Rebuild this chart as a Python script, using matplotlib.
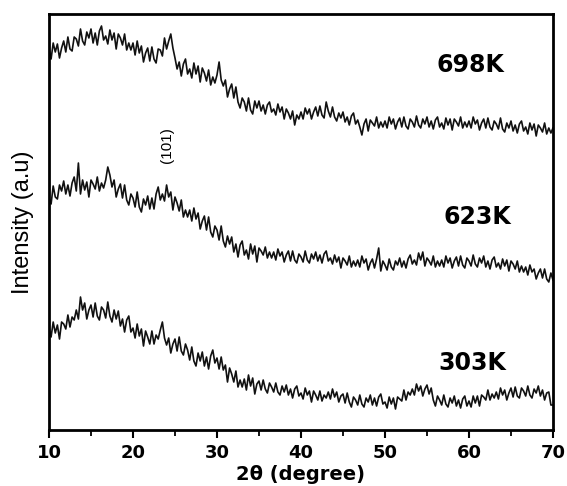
import numpy as np
import matplotlib.pyplot as plt

# intensidades (unidades arbitrarias), paso de 0.25 grados
i_698 = [
    381, 371, 387, 378, 386, 372, 382, 389, 378, 393, 381, 379,
    393, 391, 384, 401, 389, 385, 398, 392, 401, 387, 397, 385,
    399, 404, 390, 394, 386, 400, 390, 397, 381, 396, 392, 385,
    396, 380, 387, 380, 387, 375, 389, 377, 384, 368, 377, 382,
    369, 383, 371, 367, 381, 380, 374, 392, 381, 389, 396, 382,
    372, 361, 368, 354, 366, 371, 356, 361, 352, 367, 356, 364,
    348, 362, 357, 349, 360, 345, 353, 347, 355, 368, 350, 344,
    350, 333, 341, 346, 332, 343, 328, 322, 332, 328, 319, 332,
    320, 316, 329, 322, 329, 319, 325, 316, 325, 328, 318, 321,
    315, 326, 318, 323, 311, 321, 317, 311, 319, 305, 315, 311,
    318, 311, 322, 316, 321, 311, 318, 323, 314, 324, 315, 312,
    328, 319, 313, 323, 313, 309, 317, 312, 318, 308, 313, 305,
    314, 317, 306, 310, 303, 295, 306, 311, 299, 310, 307, 304,
    313, 302, 308, 303, 309, 302, 313, 306, 311, 301, 308, 312,
    303, 313, 304, 301, 311, 308, 303, 314, 305, 302, 311, 306,
    313, 303, 309, 301, 310, 313, 303, 307, 301, 312, 305, 311,
    300, 311, 308, 304, 313, 302, 308, 303, 309, 302, 313, 306,
    310, 300, 307, 311, 302, 312, 303, 300, 309, 306, 301, 312,
    301, 298, 307, 302, 309, 299, 305, 297, 306, 309, 299, 303,
    296, 307, 300, 306, 294, 305, 302, 298, 307, 296, 302, 297,
    302,
]

i_623 = [
    232, 226, 244, 233, 231, 245, 239, 249, 236, 245, 234, 247,
    253, 239, 267, 236, 250, 240, 248, 233, 250, 246, 241, 253,
    239, 247, 242, 250, 263, 255, 243, 250, 233, 241, 246, 232,
    245, 230, 225, 236, 232, 223, 238, 223, 218, 231, 225, 234,
    221, 232, 221, 236, 243, 230, 236, 229, 245, 233, 238, 220,
    233, 227, 219, 230, 213, 220, 213, 220, 209, 222, 211, 217,
    201, 209, 214, 200, 213, 198, 193, 204, 200, 190, 204, 189,
    183, 194, 186, 193, 178, 186, 173, 185, 189, 175, 180, 171,
    186, 176, 184, 168, 182, 179, 175, 183, 172, 178, 172, 178,
    170, 181, 174, 178, 168, 175, 179, 169, 179, 170, 167, 176,
    173, 168, 179, 170, 167, 176, 171, 178, 169, 175, 167, 176,
    179, 169, 172, 166, 175, 168, 173, 162, 172, 169, 165, 174,
    163, 169, 164, 170, 163, 174, 167, 171, 160, 167, 171, 162,
    171, 182, 159, 169, 165, 160, 171, 163, 160, 169, 165, 172,
    163, 169, 162, 171, 175, 166, 170, 165, 177, 170, 178, 164,
    172, 169, 165, 174, 163, 169, 164, 170, 163, 174, 167, 172,
    162, 169, 173, 164, 174, 165, 162, 172, 169, 164, 175, 166,
    163, 172, 167, 174, 163, 169, 161, 170, 173, 163, 167, 161,
    171, 164, 170, 159, 169, 166, 161, 169, 158, 164, 158, 163,
    155, 165, 158, 161, 151, 157, 161, 152, 161, 151, 148, 157,
    150,
]

i_303 = [
    102, 93, 108, 97, 105, 91, 108, 106, 101, 115, 103, 113,
    110, 120, 111, 133, 120, 127, 111, 120, 125, 113, 127, 114,
    110, 123, 120, 112, 128, 114, 108, 120, 111, 119, 104, 111,
    98, 110, 114, 98, 102, 92, 106, 94, 101, 84, 99, 93,
    86, 99, 86, 95, 91, 100, 108, 92, 85, 92, 77, 86,
    91, 79, 93, 79, 75, 86, 80, 70, 83, 69, 64, 77,
    69, 78, 64, 73, 61, 74, 80, 67, 72, 61, 73, 60,
    65, 48, 62, 56, 48, 59, 43, 50, 43, 51, 40, 55,
    44, 52, 36, 46, 49, 40, 50, 41, 37, 47, 43, 38,
    47, 38, 35, 44, 38, 45, 35, 41, 32, 41, 44, 34,
    37, 31, 42, 35, 39, 28, 39, 35, 30, 39, 29, 35,
    32, 38, 31, 41, 33, 38, 28, 34, 36, 27, 37, 28,
    23, 33, 30, 25, 35, 26, 23, 32, 28, 35, 25, 32,
    24, 33, 36, 26, 28, 22, 33, 26, 32, 21, 33, 31,
    29, 40, 30, 38, 35, 41, 35, 46, 39, 44, 34, 41,
    45, 36, 42, 30, 24, 34, 30, 25, 35, 26, 23, 32,
    27, 34, 24, 30, 22, 31, 34, 24, 29, 23, 34, 27,
    34, 24, 35, 33, 30, 40, 30, 36, 32, 38, 31, 42,
    35, 40, 30, 37, 42, 33, 43, 34, 32, 42, 39, 34,
    44, 35, 32, 41, 37, 44, 34, 40, 30, 37, 38, 25,
    25,
]

etiquetas = ['698K', '623K', '303K']
pos_etiquetas = [(60.2, 365), (61.0, 213), (60.4, 67)]

fig = plt.figure(figsize=(5.67, 4.86), dpi=100)
ax = fig.add_axes([0.0864, 0.1152, 0.8889, 0.856])

for serie in (i_698, i_623, i_303):
    x = np.linspace(10, 70, len(serie))
    ax.plot(x, serie, color='#111111', lw=1.2)

for txt, (xt, yt) in zip(etiquetas, pos_etiquetas):
    ax.text(xt, yt, txt, fontsize=17, fontweight='bold', family='DejaVu Sans',
            ha='center', va='center')

ax.text(24.05, 285, '(101)', rotation=90, fontsize=11, family='Liberation Sans',
        ha='center', va='center')

ax.set_xlim(10, 70)
ax.set_ylim(0, 416)
ax.set_xticks([10, 20, 30, 40, 50, 60, 70])
ax.set_xticks([15, 25, 35, 45, 55, 65], minor=True)
ax.set_yticks([])
ax.tick_params(axis='x', which='major', direction='out', length=6, width=1.5, pad=4,
               labelsize=13)
ax.tick_params(axis='x', which='minor', direction='out', length=4, width=1.3)
for lab in ax.get_xticklabels():
    lab.set_fontweight('bold')
    lab.set_family('DejaVu Sans')
for s in ax.spines.values():
    s.set_linewidth(2)

ax.set_xlabel('2θ (degree)', fontsize=14, fontweight='bold', family='DejaVu Sans',
              labelpad=2)
ax.set_ylabel('Intensity (a.u)', fontsize=17, family='Liberation Sans',
              labelpad=11)

plt.savefig('out.png', dpi=100)
